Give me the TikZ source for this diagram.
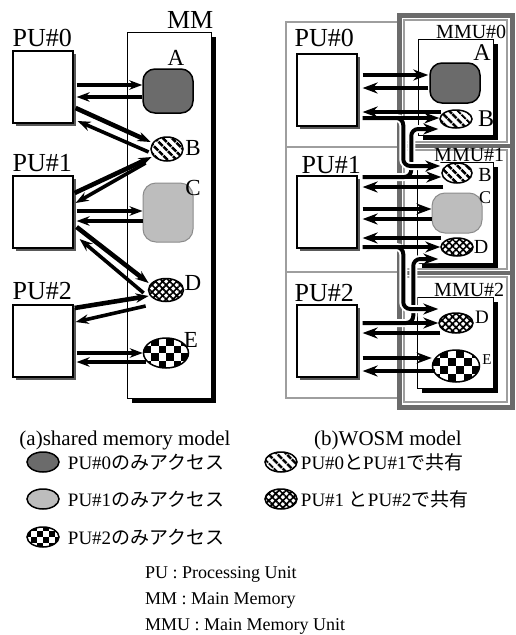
\documentclass[tikz,border=0pt]{standalone}
\usepackage{fontspec}
\setmainfont{Liberation Serif}
\newfontfamily\jpfont{Noto Sans CJK JP}
\usetikzlibrary{positioning,arrows.meta,shapes.geometric,shadows,patterns.meta}
\definecolor{privdark}{gray}{0.42}
\definecolor{privlight}{gray}{0.74}
\definecolor{privlightedge}{gray}{0.55}
\definecolor{pushadow}{gray}{0.35}
\definecolor{panelgray}{gray}{0.62}
\definecolor{columngray}{gray}{0.42}
\newcommand{\fsz}[1]{\fontsize{#1}{#1}\selectfont}

\begin{document}
\begin{tikzpicture}[
  x=1pt, y=-1pt,
  pubox/.style={draw, line width=1.2pt, fill=white, minimum width=60pt, minimum height=72pt, inner sep=0pt,
    drop shadow={shadow xshift=3pt, shadow yshift=-3pt, fill=pushadow, opacity=1}},
  membox/.style={draw, line width=0.9pt, fill=white, inner sep=0pt,
    drop shadow={shadow xshift=4.5pt, shadow yshift=-4.5pt, fill=black, opacity=1}},
  privA/.style={draw, line width=1.5pt, fill=privdark, rounded corners=12pt, inner sep=0pt},
  privC/.style={draw=privlightedge, line width=1pt, fill=privlight, rounded corners=13pt, inner sep=0pt},
  cell/.style={ellipse, draw, line width=1.5pt, inner sep=0pt},
  stripes/.style={pattern={Lines[angle=-45, distance=6.5pt, line width=2.8pt]}},
  mesh/.style={pattern={Hatch[angle=45, distance=5pt, line width=1.7pt]}},
  checker/.style={path picture={%
    \foreach \ci in {-4,...,3}{\foreach \cj in {-3,...,2}{%
      \pgfmathtruncatemacro{\cpar}{mod(\ci+\cj+20,2)}%
      \ifnum\cpar=0
        \fill[black] ([shift={(\ci*#1,\cj*#1)}]path picture bounding box.center) rectangle +(#1,#1);
      \fi}}}},
  pulbl/.style={font=\fsz{26}, inner sep=0pt},
  letter/.style={font=\fsz{#1}, inner sep=0pt},
  mmulbl/.style={font=\fsz{20}, inner sep=0pt},
  legtxt/.style={font=\fsz{19}, inner sep=0pt},
  captxt/.style={font=\fsz{21}, inner sep=0pt},
  deftxt/.style={font=\fsz{18}, inner sep=0pt},
  panel/.style={draw=panelgray, line width=2.5pt},
  column/.style={draw=columngray, line width=5pt},
  acc/.style={-{Stealth[length=13pt, width=9.5pt]}, line width=3.6pt},
  accd/.style={acc, line width=4.6pt},
  accb/.style={-{Stealth[length=15pt, width=11pt]}, line width=4pt},
  copyline/.style={accb, rounded corners=7pt, preaction={draw=white, line width=8pt, -}}
]
\useasboundingbox (0,0) rectangle (516,635);

% ---- (a) shared memory model
\node[pubox] (pu0a) at (43,87) {};
\node[pubox] (pu1a) at (43,212) {};
\node[pubox] (pu2a) at (43,341) {};
\node[pulbl, anchor=base west] (pu0al) at ([shift={(0,-4)}]pu0a.north west) {PU\#0};
\node[pulbl, anchor=base west] (pu1al) at ([shift={(0,-4)}]pu1a.north west) {PU\#1};
\node[pulbl, anchor=base west] (pu2al) at ([shift={(0,-5)}]pu2a.north west) {PU\#2};

\node[membox, minimum width=84pt, minimum height=366pt] (mma) at (169,215) {};
\node[pulbl, anchor=base east] (mmal) at ([shift={(2,-3)}]mma.north east) {MM};

\node[privA, minimum width=50pt, minimum height=44pt] (Aa) at (168,91) {};
\node[cell, stripes, minimum width=32pt, minimum height=24pt] (Ba) at (167,149) {};
\node[privC, minimum width=50pt, minimum height=59pt] (Ca) at (168,212.5) {};
\node[cell, mesh, minimum width=35pt, minimum height=23pt] (Da) at (166,290) {};
\node[cell, checker=7.5, minimum width=45pt, minimum height=30pt] (Ea) at (166,353) {};
\node[letter=23] (Aal) at ([shift={(8,-33)}]Aa.center) {A};
\node[letter=23] (Bal) at ([shift={(26,-1)}]Ba.center) {B};
\node[letter=23] (Cal) at ([shift={(25,-24.5)}]Ca.center) {C};
\node[letter=23] (Dal) at ([shift={(27,-7)}]Da.center) {D};
\node[letter=23] (Eal) at ([shift={(25,-13)}]Ea.center) {E};

\draw[acc] ([shift={(3,-2)}]pu0a.east) -- ([shift={(0,-6)}]Aa.west);
\draw[acc] ([shift={(0,6)}]Aa.west) -- ([shift={(3,10)}]pu0a.east);
\draw[accd] ([shift={(2,21)}]pu0a.east) -- ([shift={(1,-7)}]Ba.west);
\draw[acc] ([shift={(-1,3)}]Ba.west) -- ([shift={(4,34)}]pu0a.east);
\draw[accd] ([shift={(1,-19)}]pu1a.east) -- ([shift={(2,8)}]Ba.west);
\draw[acc] ([shift={(-4,14)}]Ba.west) -- ([shift={(2,-9)}]pu1a.east);
\draw[acc] ([shift={(3,-1)}]pu1a.east) -- ([shift={(0,-1.5)}]Ca.west);
\draw[acc] ([shift={(0,8.5)}]Ca.west) -- ([shift={(3,9)}]pu1a.east);
\draw[accd] ([shift={(3,15)}]pu1a.east) -- ([shift={(1,-7)}]Da.west);
\draw[acc] ([shift={(-4,3)}]Da.west) -- ([shift={(6,27)}]pu1a.east);
\draw[accd] ([shift={(1,-33)}]pu2a.east) -- ([shift={(1,6)}]Da.west);
\draw[acc] ([shift={(-2,16)}]Da.west) -- ([shift={(2,-19)}]pu2a.east);
\draw[acc] ([shift={(3,12)}]pu2a.east) -- (Ea.west);
\draw[acc] ([shift={(3,9)}]Ea.west) -- ([shift={(3,21)}]pu2a.east);

% ---- (b) WOSM model
\draw[panel] (286,22) rectangle (399,398);
\draw[panel] (286,147) -- (399,147);
\draw[panel] (286,272) -- (399,272);
\draw[draw=panelgray, line width=1.2pt] (404,20) rectangle (507,142);
\draw[draw=panelgray, line width=1.2pt] (404,150) rectangle (507,269);
\draw[draw=panelgray, line width=1.2pt] (404,277) rectangle (507,402);
\draw[column] (399,15) rectangle (512,407);
\draw[column, line width=4pt] (399,146) -- (512,146);
\draw[column, line width=4pt] (399,273) -- (512,273);

\node[pubox] (pu0b) at (327,90) {};
\node[pubox] (pu1b) at (327,212) {};
\node[pubox] (pu2b) at (327,341) {};
\node[pulbl, anchor=base west] (pu0bl) at ([shift={(-2,-7)}]pu0b.north west) {PU\#0};
\node[pulbl, anchor=base west] (pu1bl) at ([shift={(5,-2)}]pu1b.north west) {PU\#1};
\node[pulbl, anchor=base west] (pu2bl) at ([shift={(-2,-3)}]pu2b.north west) {PU\#2};

\node[membox, minimum width=75pt, minimum height=96pt] (mmu0) at (455.5,87) {};
\node[membox, minimum width=76pt, minimum height=101pt] (mmu1) at (455,212.5) {};
\node[membox, minimum width=76pt, minimum height=91pt] (mmu2) at (455,342.5) {};
\node[mmulbl, anchor=base east] (mmu0l) at ([shift={(13,0)}]mmu0.north east) {MMU\#0};
\node[mmulbl, anchor=base east] (mmu1l) at ([shift={(11,0)}]mmu1.north east) {MMU\#1};
\node[mmulbl, anchor=base east] (mmu2l) at ([shift={(11,0)}]mmu2.north east) {MMU\#2};

\node[privA, minimum width=50pt, minimum height=40pt] (Ab) at (455,83) {};
\node[cell, stripes, minimum width=32pt, minimum height=18pt] (B0) at (456,119) {};
\node[cell, stripes, minimum width=30pt, minimum height=20pt] (B1) at (457,173) {};
\node[privC, minimum width=50pt, minimum height=40pt] (Cb) at (457,213) {};
\node[cell, mesh, minimum width=32pt, minimum height=18pt] (D1) at (457,247) {};
\node[cell, mesh, minimum width=34pt, minimum height=20pt] (D2) at (456,323) {};
\node[cell, checker=8, minimum width=47pt, minimum height=32pt] (Eb) at (456,366) {};
\node[letter=24] (Abl) at ([shift={(27,-30)}]Ab.center) {A};
\node[letter=24] (B0l) at ([shift={(30,0)}]B0.center) {B};
\node[letter=20] (B1l) at ([shift={(28,2)}]B1.center) {B};
\node[letter=18] (Cbl) at ([shift={(28,-15)}]Cb.center) {C};
\node[letter=20] (D1l) at ([shift={(24,0)}]D1.center) {D};
\node[letter=19] (D2l) at ([shift={(26,-6)}]D2.center) {D};
\node[letter=15] (Ebl) at ([shift={(31,-6)}]Eb.center) {E};

% writes copied to the other MMU
\draw[copyline] ([shift={(5,-35)}]pu1b.east) -| ([shift={(-28,10)}]B0.west) -- ([shift={(-1,10)}]B0.west);
\draw[copyline] ([shift={(5,28)}]pu0b.east) -| ([shift={(-38,-7)}]B1.west) -- ([shift={(-1,-7)}]B1.west);
\draw[copyline] ([shift={(5,-18)}]pu2b.east) -| ([shift={(-27,12)}]D1.west) -- ([shift={(-2,12)}]D1.west);
\draw[copyline] ([shift={(5,35)}]pu1b.east) -| ([shift={(-35,-14)}]D2.west) -- ([shift={(0,-14)}]D2.west);

\draw[accb] ([shift={(5,-15)}]pu0b.east) -- ([shift={(-1,-8)}]Ab.west);
\draw[accb] ([shift={(-1,5)}]Ab.west) -- ([shift={(5,-2)}]pu0b.east);
\draw[accb] ([shift={(2,-7)}]B0.west) -- ([shift={(5,22)}]pu0b.east);
\draw[accb] ([shift={(5,28)}]pu0b.east) -- ([shift={(0,-1)}]B0.west);
\draw[accb] ([shift={(5,-35)}]pu1b.east) -- ([shift={(0,4)}]B1.west);
\draw[accb] ([shift={(2,14)}]B1.west) -- ([shift={(5,-25)}]pu1b.east);
\draw[accb] ([shift={(5,-3)}]pu1b.east) -- ([shift={(0,-4)}]Cb.west);
\draw[accb] ([shift={(0,6)}]Cb.west) -- ([shift={(5,7)}]pu1b.east);
\draw[accb] ([shift={(1,-9)}]D1.west) -- ([shift={(5,26)}]pu1b.east);
\draw[accb] ([shift={(5,35)}]pu1b.east) -- (D1.west);
\draw[accb] ([shift={(5,-18)}]pu2b.east) -- (D2.west);
\draw[accb] ([shift={(2,10)}]D2.west) -- ([shift={(5,-8)}]pu2b.east);
\draw[accb] ([shift={(5,17)}]pu2b.east) -- ([shift={(0,-8)}]Eb.west);
\draw[accb] ([shift={(3,5)}]Eb.west) -- ([shift={(5,30)}]pu2b.east);

% ---- captions and legend
\node[captxt, anchor=base] (capa) at (125,445) {(a)shared memory model};
\node[captxt, anchor=base] (capb) at (388,445) {(b)WOSM model};

\node[cell, fill=privdark, minimum width=32pt, minimum height=20pt] (lgA) at (43,462) {};
\node[cell, fill=privlight, minimum width=32pt, minimum height=20pt] (lgC) at (43,499) {};
\node[cell, checker=6, minimum width=32pt, minimum height=20pt] (lgE) at (43,537) {};
\node[cell, stripes, minimum width=32pt, minimum height=20pt] (lgB) at (281,462) {};
\node[cell, mesh, minimum width=32pt, minimum height=20pt] (lgD) at (281,499) {};
\node[legtxt, right=8pt of lgA] (lgAt) {PU\#0{\jpfont のみアクセス}};
\node[legtxt, right=8pt of lgC] (lgCt) {PU\#1{\jpfont のみアクセス}};
\node[legtxt, right=8pt of lgE] (lgEt) {PU\#2{\jpfont のみアクセス}};
\node[legtxt, right=3pt of lgB] (lgBt) {PU\#0{\jpfont と}PU\#1{\jpfont で共有}};
\node[legtxt, right=3pt of lgD] (lgDt) {PU\#1 {\jpfont と}PU\#2{\jpfont で共有}};

\node[deftxt, anchor=base west] (defpu) at (145,578) {PU : Processing Unit};
\node[deftxt, anchor=base west] (defmm) at (145,604) {MM : Main Memory};
\node[deftxt, anchor=base west] (defmmu) at (145,630) {MMU : Main Memory Unit};
\end{tikzpicture}
\end{document}
